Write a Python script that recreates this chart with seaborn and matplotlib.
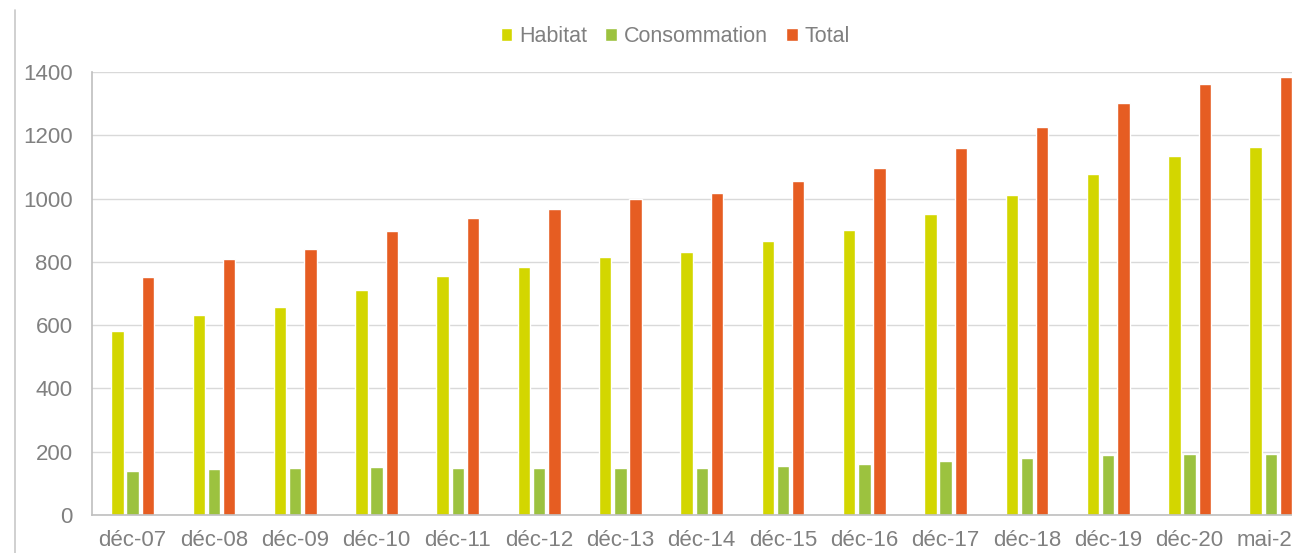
import numpy as np
import pandas as pd
import matplotlib
matplotlib.use('Agg')
from matplotlib import pyplot as plt
from matplotlib.lines import Line2D
import seaborn as sns

# values
periods = ['déc-07', 'déc-08', 'déc-09', 'déc-10', 'déc-11', 'déc-12', 'déc-13',
           'déc-14', 'déc-15', 'déc-16', 'déc-17', 'déc-18', 'déc-19', 'déc-20', 'mai-21']
habitat = [580, 633, 657, 712, 755, 785, 815, 831, 867, 900, 952, 1010, 1078, 1136, 1163]
consommation = [140, 145, 150, 153, 150, 150, 148, 148, 154, 162, 170, 181, 189, 194, 194]
total = [752, 810, 841, 897, 940, 968, 998, 1019, 1056, 1097, 1161, 1225, 1303, 1362, 1383]
series = ['Habitat', 'Consommation', 'Total']
colors = {'Habitat': '#d3d600', 'Consommation': '#9cc23f', 'Total': '#e65d22'}

df = pd.DataFrame({
    'periode': periods * 3,
    'serie': ['Habitat'] * len(periods) + ['Consommation'] * len(periods) + ['Total'] * len(periods),
    'valeur': habitat + consommation + total,
})

sns.set_style('white')
plt.rcParams['font.family'] = ['Liberation Sans', 'DejaVu Sans']
grey = '#808080'
fs = 16

W, H = 1292, 553
fig = plt.figure(figsize=(W / 100, H / 100), dpi=100)
# axes run past the right edge, as in the cropped original
ax = fig.add_axes([92 / W, (H - 515) / H, 15 * 81.3 / W, (515 - 72) / H])

sns.barplot(data=df, x='periode', y='valeur', hue='serie', order=periods,
            hue_order=series, palette=colors, width=0.56, gap=0.18,
            saturation=1, ax=ax)

ax.set_ylim(0, 1400)
ax.set_yticks(range(0, 1401, 200))
ax.yaxis.grid(True, color='#d9d9d9', linewidth=1)
ax.set_axisbelow(True)
ax.set_xlabel('')
ax.set_ylabel('')
ax.tick_params(axis='y', length=0, pad=14, labelsize=fs, labelcolor=grey)
ax.tick_params(axis='x', length=0, pad=11, labelsize=fs, labelcolor=grey)
for s in ['top', 'right']:
    ax.spines[s].set_visible(False)
for s in ['left', 'bottom']:
    ax.spines[s].set_color('#bfbfbf')
    ax.spines[s].set_linewidth(1.2)

handles, labels = ax.get_legend_handles_labels()
ax.legend_.remove()
fig.legend(handles, labels, loc='center', bbox_to_anchor=(675 / W, (H - 37) / H),
           ncol=3, frameon=False, fontsize=15.5, labelcolor=grey,
           handlelength=0.55, handleheight=0.55, handletextpad=0.3, columnspacing=0.85)

# outer frame line on the left of the chart area
fig.add_artist(Line2D([15 / W, 15 / W], [0, (H - 10) / H], color='#c8c8c8', linewidth=1.2))

plt.savefig('out.png', dpi=100)
